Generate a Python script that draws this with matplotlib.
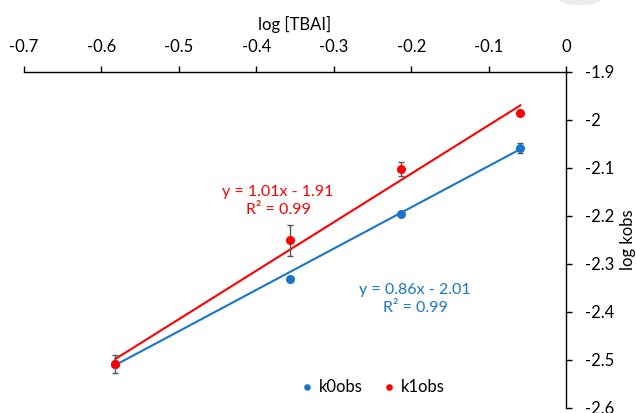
import numpy as np
import matplotlib
matplotlib.use('Agg')
import matplotlib.pyplot as plt
from matplotlib.patches import Ellipse

plt.rcParams['font.family'] = ['Lato', 'DejaVu Sans']

# data
log_tbai = [-0.582, -0.356, -0.213, -0.059]
k0obs = [-2.508, -2.332, -2.196, -2.058]
k0err = [0.0, 0.004, 0.0, 0.011]
k1obs = [-2.508, -2.251, -2.102, -1.985]
k1err = [0.019, 0.033, 0.015, 0.0]

# trendline coefficients as printed on the chart
fit0 = (0.86, -2.01)
fit1 = (1.01, -1.91)

xticks = [-0.7, -0.6, -0.5, -0.4, -0.3, -0.2, -0.1, 0]
yticks = [-1.9, -2.0, -2.1, -2.2, -2.3, -2.4, -2.5, -2.6]

blue = '#1a75c8'
red = '#ff0000'

fig = plt.figure(figsize=(6.36, 4.13), dpi=100)
ax = fig.add_axes([24/636, 5/413, 542/636, 336/413])
ax.set_xlim(-0.7, 0)
ax.set_ylim(-2.6, -1.9)

# trendlines
xs = np.array([log_tbai[0], log_tbai[-1]])
ax.plot(xs, fit0[0]*xs + fit0[1], color=blue, lw=1.5, zorder=2)
ax.plot(xs, fit1[0]*xs + fit1[1], color=red, lw=1.5, zorder=2)

# points with error bars
ax.errorbar(log_tbai, k0obs, yerr=k0err, fmt='o', color=blue, ms=5.5,
            ecolor='#555555', elinewidth=1, capsize=2.5, capthick=1, zorder=3)
ax.errorbar(log_tbai, k1obs, yerr=k1err, fmt='o', color=red, ms=5.5,
            ecolor='#555555', elinewidth=1, capsize=2.5, capthick=1, zorder=4)

# equation labels
ax.text(-0.372, -2.169, 'y = 1.01x - 1.91\nR² = 0.99', color=red, fontsize=11.5,
        ha='center', va='center', linespacing=1.3)
ax.text(-0.195, -2.373, 'y = 0.86x - 2.01\nR² = 0.99', color=blue, fontsize=11.5,
        ha='center', va='center', linespacing=1.3)

# axes on top / right, Excel style
for s in ['left', 'bottom']:
    ax.spines[s].set_visible(False)
for s in ['top', 'right']:
    ax.spines[s].set_color('#000000')
    ax.spines[s].set_linewidth(1)
ax.xaxis.tick_top()
ax.yaxis.tick_right()
ax.xaxis.set_label_position('top')
ax.yaxis.set_label_position('right')
ax.set_xticks(xticks)
ax.set_xticklabels(['-0.7', '-0.6', '-0.5', '-0.4', '-0.3', '-0.2', '-0.1', '0'])
ax.set_yticks(yticks)
ax.set_yticklabels(['-1.9', '-2', '-2.1', '-2.2', '-2.3', '-2.4', '-2.5', '-2.6'])
ax.tick_params(axis='x', direction='out', length=4.5, width=1, pad=8, labelsize=12)
ax.tick_params(axis='y', direction='out', length=4.5, width=1, pad=9, labelsize=12)
for lbl in ax.get_yticklabels():
    lbl.set_horizontalalignment('left')
ax.set_xlabel('log [TBAI]', fontsize=12, labelpad=6)
ax.set_ylabel('log kobs', fontsize=12, labelpad=4)

# legend
h0 = ax.scatter([], [], color=blue, s=14)
h1 = ax.scatter([], [], color=red, s=14)
ax.legend([h0, h1], ['k0obs', 'k1obs'], loc='center', bbox_to_anchor=(0.64, 0.063),
          ncol=2, frameon=False, fontsize=12, handletextpad=0.1, columnspacing=1.0,
          handlelength=1.2)

# faint gray artifact at the top right of the crop
fig.patches.append(Ellipse((580/636, 1.0), 40/636, 10/413, transform=fig.transFigure,
                           facecolor='#ececec', edgecolor='none'))

fig.savefig('out.png', dpi=100)
